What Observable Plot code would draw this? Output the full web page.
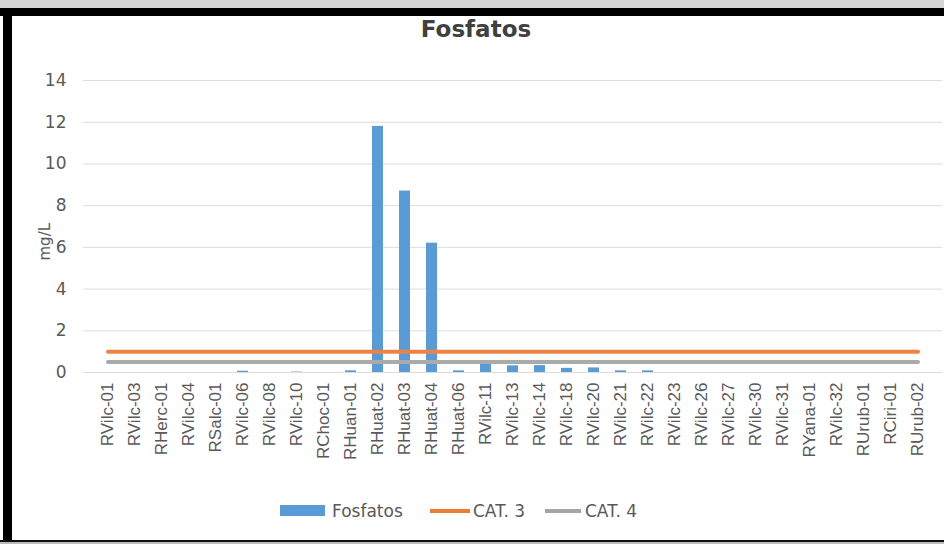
<!DOCTYPE html>
<html>
<head>
<meta charset="utf-8">
<script src="https://cdn.jsdelivr.net/npm/d3@7"></script>
<script src="https://cdn.jsdelivr.net/npm/@observablehq/plot@0.6"></script>
<style>
  body { margin: 0; background: #fff; }
  #page { position: relative; width: 944px; height: 544px; overflow: hidden; background: #fff; }
  #chart { position: absolute; left: 0; top: 0; }
  .deco { position: absolute; }
  #title { position: absolute; left: 4px; top: 16px; width: 944px; text-align: center;
           font: bold 23px "DejaVu Sans", sans-serif; color: #404040; }
  #legend { position: absolute; left: 0; top: 499px; width: 944px; height: 24px;
            font: 17px "DejaVu Sans", sans-serif; color: #595959; }
  #legend .item { position: absolute; top: 0; height: 24px; line-height: 24px; }
  #legend .sw { position: absolute; }
</style>
</head>
<body>
<div id="page">
  <div id="chart"></div>
  <div id="title"></div>
  <div id="legend"></div>
  <div class="deco" style="left:0;top:0;width:944px;height:8px;background:#d6d6d6"></div>
  <div class="deco" style="left:0;top:8px;width:944px;height:8px;background:#000"></div>
  <div class="deco" style="left:3px;top:8px;width:9px;height:533px;background:#000"></div>
  <div class="deco" style="left:0;top:540px;width:944px;height:2px;background:#111"></div>
  <div class="deco" style="left:0;top:542px;width:944px;height:2px;background:#bbb"></div>
</div>
<script>
// Monitoring stations along the river, in sampling order
const stations = [
  "RVilc-01", "RVilc-03", "RHerc-01", "RVilc-04", "RSalc-01", "RVilc-06", "RVilc-08",
  "RVilc-10", "RChoc-01", "RHuan-01", "RHuat-02", "RHuat-03", "RHuat-04", "RHuat-06",
  "RVilc-11", "RVilc-13", "RVilc-14", "RVilc-18", "RVilc-20", "RVilc-21", "RVilc-22",
  "RVilc-23", "RVilc-26", "RVilc-27", "RVilc-30", "RVilc-31", "RYana-01", "RVilc-32",
  "RUrub-01", "RCiri-01", "RUrub-02"
];

// Measured phosphate (mg/L) per station
const fosfatos = [
  0, 0, 0, 0, 0, 0.06, 0,
  0.02, 0, 0.08, 11.8, 8.7, 6.2, 0.08,
  0.55, 0.32, 0.33, 0.2, 0.22, 0.08, 0.08,
  0, 0, 0, 0, 0, 0, 0,
  0, 0, 0
];

// Water quality standards (mg/L), Category 3 and Category 4
const cat3 = [
  1, 1, 1, 1, 1, 1, 1, 1, 1, 1, 1, 1, 1, 1, 1, 1,
  1, 1, 1, 1, 1, 1, 1, 1, 1, 1, 1, 1, 1, 1, 1
];
const cat4 = [
  0.5, 0.5, 0.5, 0.5, 0.5, 0.5, 0.5, 0.5, 0.5, 0.5, 0.5, 0.5, 0.5, 0.5, 0.5, 0.5,
  0.5, 0.5, 0.5, 0.5, 0.5, 0.5, 0.5, 0.5, 0.5, 0.5, 0.5, 0.5, 0.5, 0.5, 0.5
];

const yTicks = [0, 2, 4, 6, 8, 10, 12, 14];

const titleText = "Fosfatos";
const yLabel = "mg/L";
const legendItems = [
  {label: "Fosfatos", color: "#5B9BD5", kind: "bar"},
  {label: "CAT. 3", color: "#ED7D31", kind: "line"},
  {label: "CAT. 4", color: "#A5A5A5", kind: "line"}
];

const rows = stations.map((s, i) => ({station: s, fosfatos: fosfatos[i], cat3: cat3[i], cat4: cat4[i]}));

const chart = Plot.plot({
  width: 944,
  height: 544,
  marginLeft: 83,
  marginRight: 2,
  marginTop: 80,
  marginBottom: 172,
  style: {background: "transparent", color: "#595959", fontFamily: "DejaVu Sans, sans-serif"},
  x: {domain: stations, paddingInner: 0.6, paddingOuter: 0.3, label: null},
  y: {domain: [0, 14], label: null},
  marks: [
    Plot.gridY(yTicks, {stroke: "#dcdcdc", strokeOpacity: 1}),
    Plot.barY(rows, {x: "station", y: "fosfatos", fill: "#5B9BD5"}),
    Plot.lineY(rows, {x: "station", y: "cat3", stroke: "#EE8244", strokeWidth: 4}),
    Plot.lineY(rows, {x: "station", y: "cat4", stroke: "#AAAAAA", strokeWidth: 4}),
    Plot.axisX({tickRotate: -90, tickSize: 0, tickPadding: 10, fontSize: 17,
                fontFamily: "Liberation Sans, Arial, sans-serif", label: null}),
    Plot.axisY({ticks: yTicks, tickSize: 0, tickPadding: 17, fontSize: 17, label: null}),
    Plot.text([yLabel], {text: d => d, frameAnchor: "left", dx: -38, dy: 34, rotate: -90, fontSize: 15})
  ]
});
document.getElementById("chart").appendChild(chart);
document.getElementById("title").textContent = titleText;

// Legend below the plot
const legend = document.getElementById("legend");
const layout = [
  {sw: [280, 45], text: 332},
  {sw: [430, 40], text: 473},
  {sw: [545, 36], text: 585}
];
legendItems.forEach((it, i) => {
  const sw = document.createElement("div");
  sw.className = "sw";
  sw.style.left = layout[i].sw[0] + "px";
  sw.style.width = layout[i].sw[1] + "px";
  sw.style.background = it.color;
  if (it.kind === "bar") { sw.style.top = "6px"; sw.style.height = "11px"; }
  else { sw.style.top = "10px"; sw.style.height = "4px"; }
  legend.appendChild(sw);
  const t = document.createElement("div");
  t.className = "item";
  t.style.left = layout[i].text + "px";
  t.textContent = it.label;
  legend.appendChild(t);
});
</script>
</body>
</html>
